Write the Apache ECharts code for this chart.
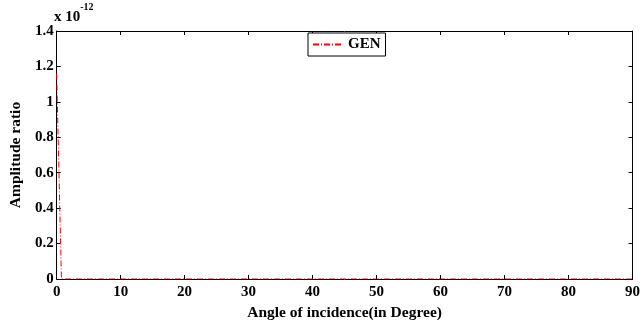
<!DOCTYPE html>
<html><head><meta charset="utf-8">
<script src="https://cdn.jsdelivr.net/npm/echarts@6/dist/echarts.min.js"></script>
<style>html,body{margin:0;padding:0;background:#fff}#c{width:643px;height:326px}</style>
</head><body><div id="c"></div>
<script>
var angles = [0, 0.75, 10, 20, 30, 40, 50, 60, 70, 80, 90];
var amplitudeE12 = [1.16, 0, 0, 0, 0, 0, 0, 0, 0, 0, 0];
var xTicks = [0, 10, 20, 30, 40, 50, 60, 70, 80, 90];
var yTicks = [0, 0.2, 0.4, 0.6, 0.8, 1, 1.2, 1.4];
var seriesName = 'GEN';

var font = 'Liberation Serif';
var chart = echarts.init(document.getElementById('c'));
var data = angles.map(function (a, i) { return [a, amplitudeE12[i]]; });
var axBase = {
  axisLine: { show: true, onZero: false, lineStyle: { color: '#000', width: 1 } },
  axisTick: { show: true, inside: true, length: 4, lineStyle: { color: '#000' } },
  splitLine: { show: false }
};
chart.setOption({
  animation: false,
  grid: { left: 54, right: 6, top: 31, bottom: 41, containLabel: false },
  legend: {
    data: [seriesName], left: 308, top: 33, width: 75, height: 24,
    padding: [4, 5, 4, 4], itemWidth: 30, itemHeight: 10, itemGap: 4,
    borderColor: '#000', borderWidth: 1, backgroundColor: '#fff',
    itemStyle: { color: 'rgba(0,0,0,0)', borderWidth: 0 },
    textStyle: { fontFamily: font, fontWeight: 'bold', fontSize: 15, color: '#000' }
  },
  xAxis: [
    Object.assign({}, axBase, {
      type: 'value', min: 0, max: 90, interval: 10, position: 'bottom',
      name: 'Angle of incidence(in Degree)', nameLocation: 'middle', nameGap: 26,
      nameTextStyle: { fontFamily: font, fontWeight: 'bold', fontSize: 15.5, color: '#000' },
      axisLabel: { margin: 6, fontFamily: font, fontWeight: 'bold', fontSize: 15, color: '#000',
        formatter: function (v) { return xTicks.indexOf(v) >= 0 ? String(v) : ''; } }
    }),
    Object.assign({}, axBase, {
      type: 'value', min: 0, max: 90, interval: 10, position: 'top', axisLabel: { show: false }
    })
  ],
  yAxis: [
    Object.assign({}, axBase, {
      type: 'value', min: 0, max: 1.4, interval: 0.2, position: 'left',
      name: 'Amplitude ratio', nameLocation: 'middle', nameGap: 32, nameRotate: 90,
      nameTextStyle: { fontFamily: font, fontWeight: 'bold', fontSize: 15.5, color: '#000' },
      axisLabel: { margin: 3, fontFamily: font, fontWeight: 'bold', fontSize: 15, color: '#000',
        formatter: function (v) {
          var r = Math.round(v * 10) / 10;
          for (var i = 0; i < yTicks.length; i++) if (Math.abs(yTicks[i] - r) < 1e-9) return String(yTicks[i]);
          return '';
        } }
    }),
    Object.assign({}, axBase, {
      type: 'value', min: 0, max: 1.4, interval: 0.2, position: 'right', axisLabel: { show: false }
    })
  ],
  graphic: [{
    type: 'text', left: 54, top: 2,
    style: {
      text: '{a|x 10}{b|-12}',
      rich: {
        a: { fontFamily: font, fontWeight: 'bold', fontSize: 15, fill: '#000', verticalAlign: 'bottom', padding: [8, 0, 0, 0] },
        b: { fontFamily: font, fontWeight: 'bold', fontSize: 10, fill: '#000', verticalAlign: 'top' }
      }
    }
  }],
  series: [{
    name: seriesName, type: 'line', data: data, showSymbol: false, symbol: 'none',
    xAxisIndex: 0, yAxisIndex: 0,
    lineStyle: { color: '#ff0000', width: 1, type: [6, 2, 1, 2] },
    itemStyle: { color: '#ff0000' }
  }]
});
</script></body></html>
